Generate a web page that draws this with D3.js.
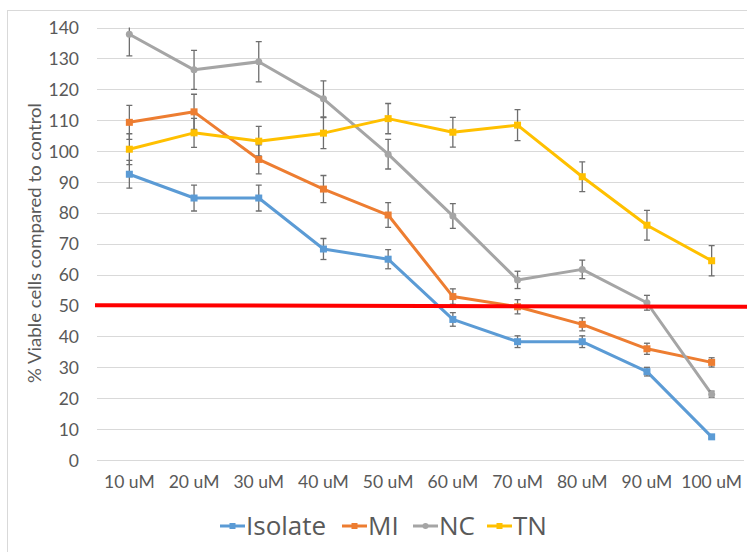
<!DOCTYPE html>
<html>
<head>
<meta charset="utf-8">
<script src="https://cdnjs.cloudflare.com/ajax/libs/d3/7.8.5/d3.min.js"></script>
<style>
  body { margin: 0; background: #fff; }
  text { font-family: Lato, "Open Sans", sans-serif; fill: #595959; }
  .legend text { font-family: "Open Sans", sans-serif; }
</style>
</head>
<body>
<div class="chart"></div>
<script>
// Data
var doses = ["10 uM", "20 uM", "30 uM", "40 uM", "50 uM", "60 uM", "70 uM", "80 uM", "90 uM", "100 uM"];
var yTicks = [0, 10, 20, 30, 40, 50, 60, 70, 80, 90, 100, 110, 120, 130, 140];

var isolate = [92.5, 84.8, 84.8, 68.3, 65.0, 45.5, 38.3, 38.3, 28.6, 7.5];
var isolateErr = [4.5, 4.2, 4.2, 3.4, 3.1, 2.2, 1.9, 1.9, 1.4, 0.5];
var mi = [109.3, 112.7, 97.3, 87.7, 79.3, 52.9, 49.6, 43.9, 36.0, 31.6];
var miErr = [5.5, 5.7, 4.7, 4.4, 4.0, 2.5, 2.3, 2.1, 1.8, 1.5];
var nc = [137.8, 126.3, 128.9, 116.9, 99.0, 79.0, 58.3, 61.7, 50.9, 21.3];
var ncErr = [7.0, 6.3, 6.5, 5.8, 4.8, 4.0, 2.8, 3.0, 2.4, 1.0];
var tn = [100.6, 105.9, 103.2, 105.8, 110.5, 106.1, 108.4, 91.7, 76.0, 64.5];
var tnErr = [5.0, 4.7, 4.8, 5.0, 4.9, 4.8, 5.0, 4.8, 4.8, 4.9];

// hand drawn 50% cut-off line, start and end value
var cutoff = [50.1, 49.6];

var seriesNames = ["Isolate", "MI", "NC", "TN"];
var seriesColors = ["#5B9BD5", "#ED7D31", "#A5A5A5", "#FFC000"];

var series = [
  { name: seriesNames[0], values: isolate, err: isolateErr, color: seriesColors[0], marker: "square" },
  { name: seriesNames[1], values: mi, err: miErr, color: seriesColors[1], marker: "square" },
  { name: seriesNames[2], values: nc, err: ncErr, color: seriesColors[2], marker: "circle" },
  { name: seriesNames[3], values: tn, err: tnErr, color: seriesColors[3], marker: "square" }
];

var svgWidth = 747;
var svgHeight = 552;

var plot = { left: 97, right: 744, top: 27.5, bottom: 460 };

var svg = d3.select(".chart")
  .append("svg")
  .attr("width", svgWidth)
  .attr("height", svgHeight);

// chart border
svg.append("rect")
  .attr("x", 7.5)
  .attr("y", 10.5)
  .attr("width", svgWidth)
  .attr("height", svgHeight)
  .attr("fill", "#fff")
  .attr("stroke", "#D9D9D9");

var x = d3.scaleBand()
  .domain(doses)
  .range([plot.left, plot.right]);

var y = d3.scaleLinear()
  .domain([0, 140])
  .range([plot.bottom, plot.top]);

var xCenter = function(d) { return x(d) + x.bandwidth() / 2; };

// gridlines
svg.append("g")
  .selectAll("line")
  .data(yTicks)
  .enter().append("line")
  .attr("x1", plot.left)
  .attr("x2", plot.right)
  .attr("y1", function(d) { return Math.round(y(d)) + 0.5; })
  .attr("y2", function(d) { return Math.round(y(d)) + 0.5; })
  .attr("stroke", "#D9D9D9")
  .attr("stroke-width", 1);

// Y axis labels
var yAxis = d3.axisLeft(y).tickValues(yTicks).tickSize(0).tickPadding(0);
var yG = svg.append("g")
  .attr("transform", "translate(79,0)")
  .call(yAxis);
yG.select(".domain").remove();
yG.selectAll("text")
  .style("font-size", "17.5px")
  .attr("fill", "#595959")
  .attr("dy", "0.35em");

// X axis labels
var xAxis = d3.axisBottom(x).tickSize(0).tickPadding(0);
var xG = svg.append("g")
  .attr("transform", "translate(0,476)")
  .call(xAxis);
xG.select(".domain").remove();
xG.selectAll("text")
  .style("font-size", "17.5px")
  .attr("fill", "#595959");

// Y axis title
svg.append("text")
  .attr("transform", "translate(41,243) rotate(-90)")
  .attr("text-anchor", "middle")
  .style("font-size", "18px")
  .attr("textLength", 280)
  .attr("lengthAdjust", "spacingAndGlyphs")
  .text("% Viable cells compared to control");

// clip for the error bars (they get cut at the top of plot area)
svg.append("clipPath")
  .attr("id", "plotClip")
  .append("rect")
  .attr("x", 0)
  .attr("y", plot.top)
  .attr("width", svgWidth)
  .attr("height", plot.bottom - plot.top);

var line = d3.line()
  .x(function(d, i) { return xCenter(doses[i]); })
  .y(function(d) { return y(d); });

// lines
svg.append("g")
  .selectAll("path")
  .data(series)
  .enter().append("path")
  .attr("d", function(s) { return line(s.values); })
  .attr("fill", "none")
  .attr("stroke", function(s) { return s.color; })
  .attr("stroke-width", 3)
  .attr("stroke-linejoin", "round");

// error bars
var errG = svg.append("g").attr("clip-path", "url(#plotClip)");
series.forEach(function(s) {
  var g = errG.append("g");
  var pts = s.values.map(function(v, i) { return { x: xCenter(doses[i]), v: v, e: s.err[i] }; });
  g.selectAll(".stem")
    .data(pts)
    .enter().append("line")
    .attr("x1", function(d) { return d.x; })
    .attr("x2", function(d) { return d.x; })
    .attr("y1", function(d) { return y(d.v + d.e); })
    .attr("y2", function(d) { return y(d.v - d.e); })
    .attr("stroke", "#6E6E6E")
    .attr("stroke-width", 1.3);
  [1, -1].forEach(function(sign) {
    g.selectAll(".cap" + sign)
      .data(pts)
      .enter().append("line")
      .attr("x1", function(d) { return d.x - 3; })
      .attr("x2", function(d) { return d.x + 3; })
      .attr("y1", function(d) { return y(d.v + sign * d.e); })
      .attr("y2", function(d) { return y(d.v + sign * d.e); })
      .attr("stroke", "#6E6E6E")
      .attr("stroke-width", 1.3);
  });
});

// markers
series.forEach(function(s) {
  var g = svg.append("g");
  if (s.marker === "square") {
    g.selectAll("rect")
      .data(s.values)
      .enter().append("rect")
      .attr("x", function(d, i) { return xCenter(doses[i]) - 3.5; })
      .attr("y", function(d) { return y(d) - 3.5; })
      .attr("width", 7)
      .attr("height", 7)
      .attr("fill", s.color);
  } else {
    g.selectAll("circle")
      .data(s.values)
      .enter().append("circle")
      .attr("cx", function(d, i) { return xCenter(doses[i]); })
      .attr("cy", function(d) { return y(d); })
      .attr("r", 3.5)
      .attr("fill", s.color);
  }
});

// red 50% line
svg.append("line")
  .attr("x1", plot.left - 2)
  .attr("x2", svgWidth)
  .attr("y1", y(cutoff[0]))
  .attr("y2", y(cutoff[1]))
  .attr("stroke", "#FF0000")
  .attr("stroke-width", 4);

// legend
var legendX = [220, 342, 413, 487];
var legend = svg.append("g").attr("class", "legend");
series.forEach(function(s, i) {
  var lg = legend.append("g").attr("transform", "translate(" + legendX[i] + ",526)");
  lg.append("line")
    .attr("x1", 0).attr("x2", 25)
    .attr("y1", 0).attr("y2", 0)
    .attr("stroke", s.color)
    .attr("stroke-width", 3);
  if (s.marker === "square") {
    lg.append("rect").attr("x", 9.5).attr("y", -3).attr("width", 6).attr("height", 6).attr("fill", s.color);
  } else {
    lg.append("circle").attr("cx", 12.5).attr("cy", 0).attr("r", 3).attr("fill", s.color);
  }
  lg.append("text")
    .attr("x", 26)
    .attr("y", 0)
    .attr("dy", "0.35em")
    .style("font-size", "26px")
    .text(s.name);
});
</script>
</body>
</html>
